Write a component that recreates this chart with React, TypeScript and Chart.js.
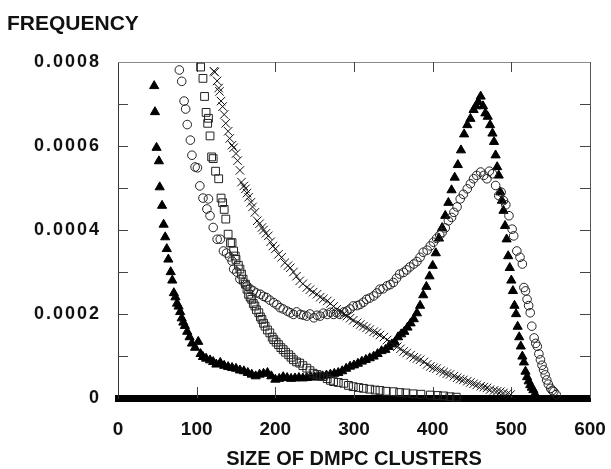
import React, { useEffect, useRef } from 'react';
import { Chart, registerables } from 'chart.js';

Chart.register(...registerables);

// Cluster sizes (x) and frequencies in units of 1e-4 (y)
const triX = [46, 47, 49, 52, 53, 56, 58, 60, 62, 64, 67, 69, 71, 73, 75, 77, 79, 81, 83, 85, 88, 91, 94, 98, 102, 105, 108, 112, 117, 121, 125, 130, 135, 140, 145, 150, 155, 160, 165, 170, 175, 180, 185, 190, 195, 200, 205, 210, 215, 220, 225, 230, 235, 240, 245, 250, 255, 260, 265, 270, 275, 280, 285, 290, 295, 300, 305, 310, 315, 320, 325, 330, 335, 340, 344, 348, 352, 356, 360, 364, 368, 372, 376, 380, 384, 388, 392, 396, 400, 404, 408, 412, 416, 420, 424, 428, 432, 436, 440, 444, 448, 452, 455, 458, 461, 464, 467, 470, 473, 476, 478, 480, 482, 484, 486, 488, 490, 492, 494, 496, 498, 500, 502, 504, 506, 508, 510, 512, 514, 516, 518, 520, 522, 524, 526, 528, 530];
const triFreqE4 = [7.43, 6.81, 5.96, 5.64, 5.02, 4.58, 4.13, 3.83, 3.55, 3.30, 3.00, 2.80, 2.50, 2.40, 2.25, 2.18, 2.05, 1.90, 1.80, 1.72, 1.58, 1.45, 1.30, 1.20, 1.34, 1.05, 0.98, 0.94, 0.90, 0.86, 0.80, 0.84, 0.77, 0.74, 0.72, 0.70, 0.66, 0.64, 0.60, 0.56, 0.52, 0.56, 0.58, 0.60, 0.52, 0.44, 0.46, 0.50, 0.48, 0.46, 0.47, 0.48, 0.47, 0.48, 0.50, 0.49, 0.51, 0.52, 0.54, 0.56, 0.58, 0.60, 0.64, 0.70, 0.75, 0.78, 0.82, 0.87, 0.91, 0.95, 0.99, 1.05, 1.12, 1.15, 1.22, 1.28, 1.33, 1.45, 1.52, 1.58, 1.68, 1.78, 1.88, 2.02, 2.20, 2.45, 2.65, 2.90, 3.15, 3.45, 3.80, 4.05, 4.34, 4.65, 4.95, 5.25, 5.55, 5.90, 6.28, 6.50, 6.65, 6.86, 6.95, 7.05, 7.18, 6.95, 6.78, 6.70, 6.50, 6.30, 6.10, 5.78, 5.50, 5.30, 4.90, 4.70, 4.46, 4.10, 3.78, 3.38, 3.10, 2.80, 2.55, 2.20, 2.00, 1.70, 1.45, 1.23, 0.99, 0.85, 0.63, 0.50, 0.40, 0.31, 0.25, 0.19, 0.10];

const circX = [78, 81, 84, 86, 88, 92, 94, 98, 101, 104, 108, 113, 115, 117, 121, 126, 130, 134, 138, 142, 145, 147, 151, 155, 160, 164, 168, 172, 176, 181, 185, 189, 193, 198, 202, 206, 210, 215, 219, 223, 227, 232, 236, 240, 244, 249, 253, 257, 261, 266, 270, 274, 278, 282, 287, 291, 295, 299, 304, 308, 312, 316, 320, 325, 329, 333, 337, 342, 346, 350, 354, 358, 363, 367, 371, 376, 380, 384, 388, 393, 397, 401, 405, 409, 412, 416, 420, 424, 427, 431, 435, 439, 444, 448, 452, 456, 461, 465, 469, 472, 476, 480, 484, 487, 490, 493, 497, 501, 503, 507, 511, 514, 516, 518, 520, 522, 524, 526, 529, 531, 533, 535, 537, 539, 541, 543, 545, 547, 550, 552, 554, 557];
const circFreqE4 = [7.81, 7.54, 7.07, 6.88, 6.51, 6.14, 5.78, 5.50, 5.48, 5.05, 4.76, 4.50, 4.74, 4.34, 4.06, 3.78, 3.78, 3.50, 3.45, 3.36, 3.26, 3.07, 3.00, 2.83, 2.75, 2.67, 2.60, 2.55, 2.50, 2.47, 2.42, 2.39, 2.33, 2.27, 2.22, 2.15, 2.12, 2.07, 2.03, 1.99, 2.05, 1.99, 1.97, 1.95, 2.00, 1.91, 1.97, 1.95, 2.02, 1.99, 2.04, 1.99, 2.03, 1.99, 2.05, 2.07, 2.12, 2.19, 2.20, 2.23, 2.28, 2.35, 2.38, 2.43, 2.50, 2.59, 2.60, 2.67, 2.70, 2.75, 2.85, 2.95, 2.99, 3.05, 3.12, 3.19, 3.25, 3.35, 3.47, 3.52, 3.62, 3.71, 3.80, 3.88, 3.94, 4.05, 4.22, 4.30, 4.42, 4.55, 4.74, 4.85, 4.98, 5.10, 5.22, 5.30, 5.38, 5.30, 5.22, 5.40, 5.34, 5.06, 4.82, 4.90, 4.70, 4.60, 4.34, 4.02, 3.86, 3.50, 3.35, 3.19, 2.63, 2.55, 2.35, 2.20, 2.03, 1.71, 1.43, 1.30, 1.23, 1.05, 0.91, 0.78, 0.67, 0.55, 0.43, 0.33, 0.23, 0.18, 0.15, 0.08];

const sqX = [105, 108, 110, 112, 114, 115, 117, 119, 121, 124, 128, 131, 133, 135, 137, 140, 143, 145, 147, 149, 150, 153, 155, 157, 159, 162, 164, 166, 168, 170, 172, 174, 176, 179, 181, 183, 185, 187, 190, 193, 196, 198, 201, 204, 207, 210, 213, 217, 220, 223, 227, 231, 235, 240, 244, 248, 253, 257, 261, 266, 270, 274, 280, 287, 293, 299, 306, 312, 320, 327, 333, 341, 350, 358, 366, 375, 385, 397, 406, 414, 422, 430];
const sqFreqE4 = [7.88, 7.61, 7.18, 6.80, 6.54, 6.66, 6.24, 5.74, 5.70, 5.40, 5.22, 4.76, 4.65, 4.49, 4.26, 3.90, 3.69, 3.70, 3.50, 3.38, 3.30, 3.16, 3.07, 2.95, 2.83, 2.71, 2.59, 2.47, 2.40, 2.35, 2.25, 2.19, 2.10, 2.03, 1.93, 1.87, 1.78, 1.71, 1.62, 1.55, 1.45, 1.39, 1.33, 1.27, 1.20, 1.15, 1.09, 1.03, 0.97, 0.91, 0.86, 0.83, 0.77, 0.71, 0.65, 0.59, 0.56, 0.52, 0.51, 0.46, 0.42, 0.39, 0.37, 0.35, 0.30, 0.27, 0.25, 0.23, 0.21, 0.19, 0.18, 0.16, 0.15, 0.13, 0.12, 0.10, 0.09, 0.07, 0.06, 0.05, 0.03, 0.02];

const crossX = [122, 123, 126, 128, 129, 131, 133, 135, 137, 140, 142, 145, 147, 150, 152, 155, 157, 160, 162, 164, 166, 169, 171, 174, 177, 180, 183, 185, 188, 191, 194, 197, 200, 204, 208, 212, 216, 219, 223, 227, 231, 235, 240, 244, 248, 253, 257, 261, 266, 270, 274, 278, 283, 287, 291, 295, 299, 304, 308, 312, 316, 320, 325, 329, 333, 338, 342, 346, 350, 355, 359, 363, 367, 372, 376, 380, 384, 389, 393, 397, 401, 405, 410, 414, 418, 422, 427, 431, 435, 439, 444, 448, 452, 456, 461, 465, 469, 473, 478, 482, 486, 490, 495, 499];
const crossFreqE4 = [7.78, 7.76, 7.55, 7.38, 7.30, 7.07, 6.94, 6.75, 6.54, 6.35, 6.18, 6.02, 5.96, 5.82, 5.65, 5.42, 5.14, 5.05, 4.98, 4.88, 4.78, 4.66, 4.55, 4.42, 4.22, 4.15, 4.06, 4.00, 3.92, 3.86, 3.72, 3.62, 3.55, 3.42, 3.35, 3.22, 3.15, 3.10, 3.00, 2.90, 2.79, 2.72, 2.63, 2.58, 2.52, 2.47, 2.40, 2.36, 2.31, 2.25, 2.18, 2.11, 2.05, 2.00, 1.95, 1.90, 1.85, 1.79, 1.75, 1.71, 1.67, 1.63, 1.58, 1.55, 1.50, 1.45, 1.38, 1.33, 1.28, 1.22, 1.17, 1.11, 1.07, 1.02, 0.97, 0.94, 0.91, 0.86, 0.80, 0.75, 0.72, 0.70, 0.65, 0.62, 0.58, 0.56, 0.52, 0.48, 0.45, 0.43, 0.40, 0.37, 0.34, 0.31, 0.28, 0.26, 0.24, 0.20, 0.18, 0.16, 0.15, 0.12, 0.10, 0.08];

const xTickStep = 100;
const yTickStep = 0.0001;
const yTitle = 'FREQUENCY';
const xTitle = 'SIZE OF DMPC CLUSTERS';

const toPoints = (xs: number[], ys: number[]) => xs.map((x, i) => ({ x, y: ys[i] * 1e-4 }));

const FONT = "'Liberation Sans', Arial, Helvetica, sans-serif";

const frameTicks = {
  id: 'frameTicks',
  beforeDatasetsDraw(chart: any) {
    const { ctx, chartArea: a, scales } = chart;
    const xs = scales.x;
    const ys = scales.y;
    ctx.save();
    ctx.lineWidth = 1;
    ctx.strokeStyle = '#8a8a8a';
    ctx.beginPath();
    ctx.moveTo(a.left, Math.round(a.top) + 0.5);
    ctx.lineTo(a.right, Math.round(a.top) + 0.5);
    ctx.stroke();
    ctx.strokeStyle = '#555';
    ctx.beginPath();
    ctx.moveTo(Math.round(a.right) + 0.5, a.top);
    ctx.lineTo(Math.round(a.right) + 0.5, a.bottom);
    ctx.stroke();
    const L = 10;
    ctx.strokeStyle = '#444';
    ys.ticks.forEach((t: any) => {
      if (t.value <= 0 || t.value >= ys.max - 1e-9) return;
      const y = Math.round(ys.getPixelForValue(t.value)) + 0.5;
      ctx.beginPath();
      ctx.moveTo(a.left, y);
      ctx.lineTo(a.left + L, y);
      ctx.moveTo(a.right, y);
      ctx.lineTo(a.right - L, y);
      ctx.stroke();
    });
    xs.ticks.forEach((t: any) => {
      if (t.value <= 0 || t.value >= xs.max) return;
      const x = Math.round(xs.getPixelForValue(t.value)) + 0.5;
      ctx.beginPath();
      ctx.moveTo(x, a.bottom);
      ctx.lineTo(x, a.bottom - L - 1);
      ctx.moveTo(x, a.top);
      ctx.lineTo(x, a.top + L);
      ctx.stroke();
    });
    ctx.restore();
  },
  afterDatasetsDraw(chart: any) {
    (chart.ctx as any).letterSpacing = '2px';
  },
  afterDraw(chart: any) {
    (chart.ctx as any).letterSpacing = '0px';
  },
};

export default function App() {
  const ref = useRef<HTMLCanvasElement | null>(null);
  useEffect(() => {
    if (!ref.current) return;
    Chart.defaults.font.family = FONT;
    Chart.defaults.color = '#111';
    const common = { showLine: false, clip: false as any, pointBorderWidth: 1 };
    const chart = new Chart(ref.current, {
      type: 'scatter',
      data: {
        datasets: [
          {
            ...common,
            label: 'crosses',
            data: toPoints(crossX, crossFreqE4),
            pointStyle: 'crossRot',
            pointRadius: 6,
            borderColor: '#111',
            backgroundColor: '#111',
          },
          {
            ...common,
            label: 'squares',
            data: toPoints(sqX, sqFreqE4),
            pointStyle: 'rect',
            pointRadius: 5.5,
            borderColor: '#222',
            backgroundColor: 'rgba(0,0,0,0)',
          },
          {
            ...common,
            label: 'circles',
            data: toPoints(circX, circFreqE4),
            pointStyle: 'circle',
            pointRadius: 4.3,
            borderColor: '#222',
            backgroundColor: 'rgba(0,0,0,0)',
          },
          {
            ...common,
            label: 'triangles',
            data: toPoints(triX, triFreqE4),
            pointStyle: 'triangle',
            pointRadius: 5.3,
            borderColor: '#000',
            backgroundColor: '#000',
          },
        ],
      },
      options: {
        animation: false,
        responsive: false,
        events: [],
        layout: { padding: { left: 7, right: 21, top: 0, bottom: 0 } },
        plugins: {
          legend: { display: false },
          tooltip: { enabled: false },
          title: {
            display: true,
            text: yTitle,
            align: 'start',
            color: '#111',
            font: { size: 21, weight: 'bold', family: FONT, lineHeight: 1 },
            padding: { top: 14, bottom: 27 },
          },
        },
        scales: {
          x: {
            type: 'linear',
            min: 0,
            max: 600,
            afterFit: (s: any) => { s.height = 71; s.paddingLeft = 0; s.paddingRight = 0; },
            grid: { display: true, drawOnChartArea: false, drawTicks: false, color: 'rgba(0,0,0,0)' },
            border: { display: true, color: '#000', width: 7 },
            ticks: {
              stepSize: xTickStep,
              autoSkip: false,
              maxRotation: 0,
              padding: 20,
              color: '#111',
              font: { size: 19, weight: 'bold', family: FONT },
            },
            title: {
              display: true,
              text: xTitle,
              color: '#111',
              font: { size: 20, weight: 'bold', family: FONT, lineHeight: 1 },
              padding: { top: 0, bottom: 0 },
            },
          },
          y: {
            type: 'linear',
            min: 0,
            max: 0.0008,
            afterFit: (s: any) => { s.width = 111; },
            grid: { display: true, drawOnChartArea: false, drawTicks: false, color: 'rgba(0,0,0,0)' },
            border: { display: true, color: '#333', width: 1 },
            ticks: {
              z: 1,
              stepSize: yTickStep,
              autoSkip: false,
              padding: 17,
              color: '#111',
              font: { size: 18, weight: 'bold', family: FONT },
              callback: (v: any) => {
                const k = Math.round(Number(v) / yTickStep);
                if (k % 2 !== 0) return '';
                return k === 0 ? '0' : (k * yTickStep).toFixed(4);
              },
            },
          },
        },
      },
      plugins: [frameTicks],
    } as any);
    return () => chart.destroy();
  }, []);
  return (
    <div style={{ position: 'fixed', left: 0, top: 0, width: 611, height: 469, background: '#fff' }}>
      <canvas ref={ref} width={611} height={469} style={{ display: 'block' }} />
    </div>
  );
}
